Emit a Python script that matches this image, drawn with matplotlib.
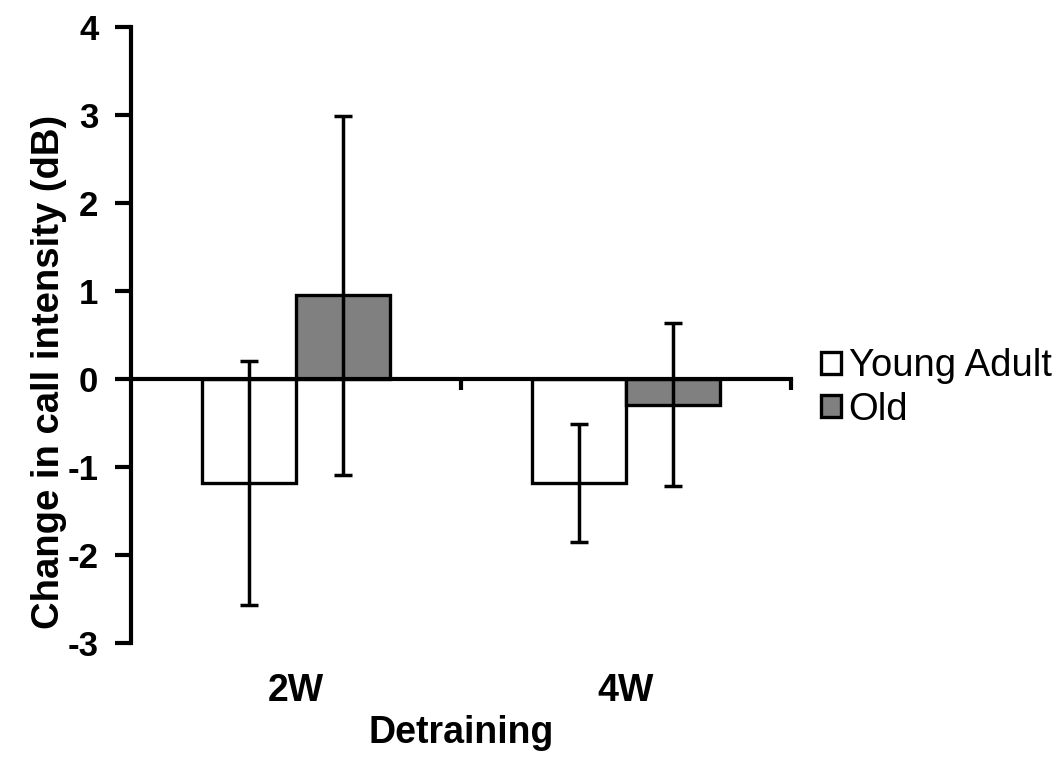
import numpy as np
import matplotlib
matplotlib.use("Agg")
import matplotlib.pyplot as plt
from matplotlib.transforms import blended_transform_factory

plt.rcParams["font.family"] = ["Liberation Sans", "DejaVu Sans"]

# mean change in call intensity (dB) and error bar extents
periods = ["2W", "4W"]
groups = ["Young Adult", "Old"]
young_mean = [-1.18, -1.18]
young_err = [1.39, 0.67]
old_mean = [0.95, -0.29]
old_err = [2.04, 0.93]
fills = ["white", "#808080"]

fig = plt.figure(figsize=(10.63, 7.59), dpi=100)
ax = fig.add_axes([0.1232, 0.1528, 0.6209, 0.8116])

x = np.arange(len(periods))
w = 0.285
for i, (means, errs) in enumerate([(young_mean, young_err), (old_mean, old_err)]):
    ax.bar(x + (i - 0.5) * w, means, width=w, color=fills[i], edgecolor="black",
           linewidth=2.4, label=groups[i], zorder=2)
    ax.errorbar(x + (i - 0.5) * w, means, yerr=errs, fmt="none", ecolor="black",
                elinewidth=2.5, capsize=6.5, capthick=2.5, zorder=3)

ax.set_xlim(-0.5, 1.5)
ax.set_ylim(-3, 4)
ax.set_yticks(range(-3, 5))
ax.set_yticklabels([str(v) for v in range(-3, 5)], fontsize=25, fontweight="bold")

# category axis sits on the zero line, ticks at the group boundaries
for side in ["top", "right"]:
    ax.spines[side].set_visible(False)
ax.spines["bottom"].set_position(("data", 0))
ax.spines["bottom"].set_linewidth(3)
ax.spines["bottom"].set_zorder(4)
ax.spines["left"].set_linewidth(3)
ax.set_xticks([0.5, 1.5])
ax.set_xticklabels([])
ax.tick_params(axis="x", direction="out", length=8, width=3)
ax.tick_params(axis="y", direction="out", length=11.5, width=3, pad=12)

trans = blended_transform_factory(ax.transData, ax.transAxes)
for xi, name in zip(x, periods):
    ax.text(xi, -0.094, name, transform=trans, ha="center", va="baseline",
            fontsize=27, fontweight="bold")
ax.text(0.5, -0.163, "Detraining", transform=ax.transAxes, ha="center",
        va="baseline", fontsize=27, fontweight="bold")
fig.text(0.046, 0.51, "Change in call intensity (dB)", rotation=90,
         ha="center", va="center", fontsize=27.5, fontweight="bold")

leg = ax.legend(loc="center left", bbox_to_anchor=(1.045, 0.414), frameon=False,
                fontsize=27.5, handlelength=0.52, handleheight=0.52,
                handletextpad=0.21, labelspacing=0.19, borderaxespad=0,
                borderpad=0)

fig.savefig("out.png", dpi=100)
